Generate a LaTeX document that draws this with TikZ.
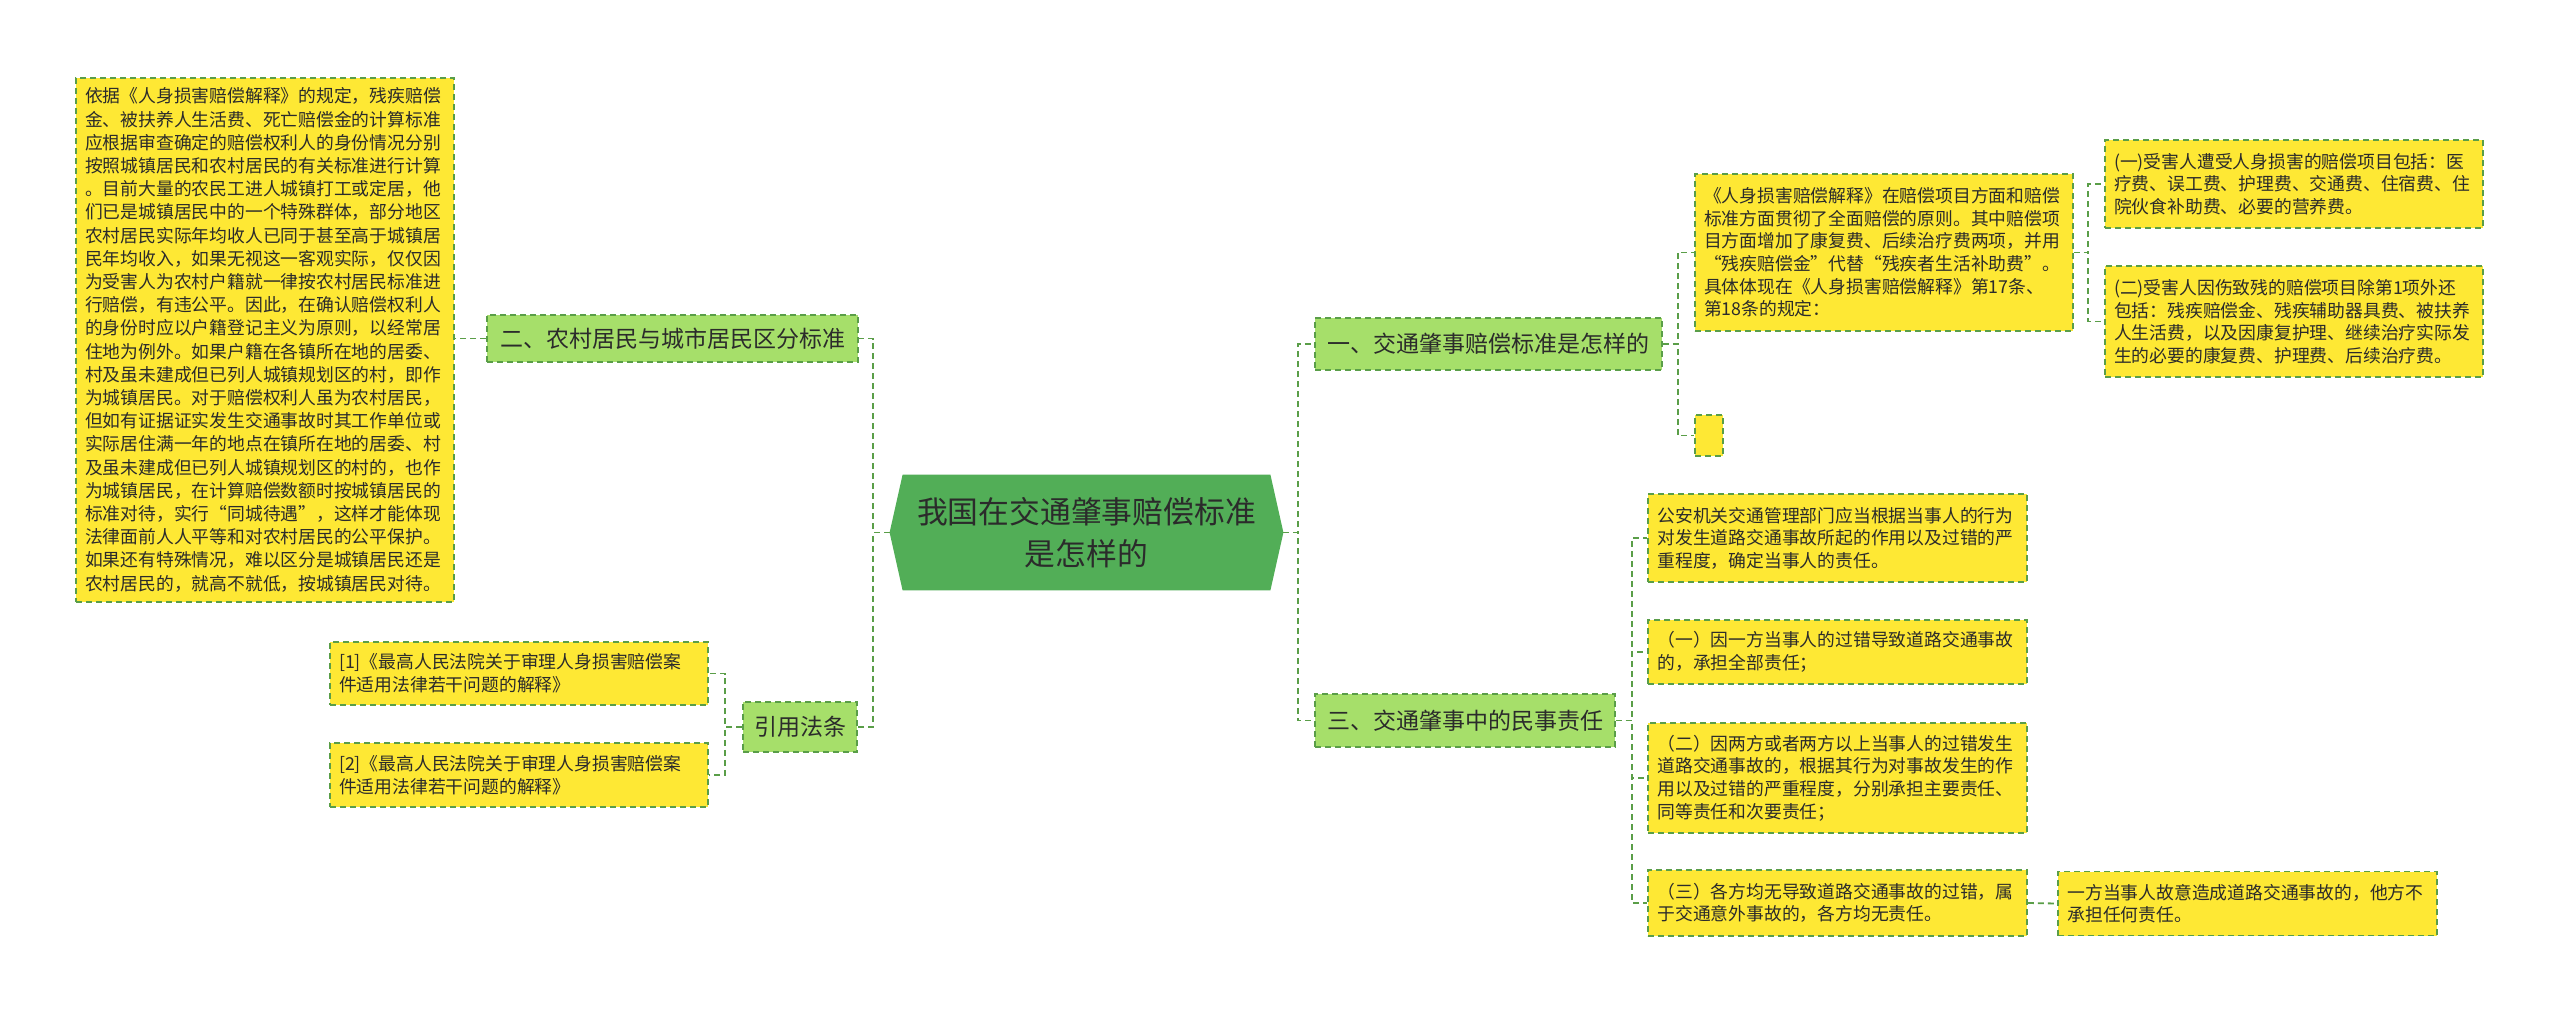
\documentclass[tikz,border=0pt]{standalone}
\usepackage{fontspec}
\setmainfont{Noto Sans CJK SC}
\usetikzlibrary{backgrounds}
\definecolor{yel}{HTML}{FEE834}
\definecolor{lgreen}{HTML}{A6DF6A}
\definecolor{rootG}{HTML}{52AE57}
\definecolor{lineG}{HTML}{5A9E48}
\definecolor{txt}{HTML}{2B2B2B}
\tikzset{
  conn/.style={draw=lineG, line width=0.9pt, dash pattern=on 3pt off 2pt},
  ybox/.style={draw=lineG, line width=0.8pt, dash pattern=on 3pt off 2pt, fill=yel, text=txt,
    font=\fontsize{8.9pt}{11.3pt}\selectfont, align=left, inner xsep=4.5pt, inner ysep=0pt, text width=180pt},
  gbox/.style={draw=lineG, line width=0.8pt, dash pattern=on 3pt off 2pt, fill=lgreen, text=txt,
    font=\fontsize{11.5pt}{14pt}\selectfont, align=center, inner sep=0pt},
  rootnode/.style={text=txt, font=\fontsize{15.4pt}{20.8pt}\selectfont, align=center, inner sep=0pt,
    minimum width=196.5pt, minimum height=57.5pt}
}
\begin{document}
\begin{tikzpicture}[x=0.5pt, y=-0.5pt]
\useasboundingbox (0,0) rectangle (2560,1013);
% trunk coordinates
\coordinate (tL) at (873,0);
\coordinate (tC) at (725,0);
\coordinate (tR) at (1298,0);
\coordinate (tA) at (1678,0);
\coordinate (tB) at (2088,0);
\coordinate (tD) at (1632,0);

% root
\node[rootnode] (root) at (1086.5,532.5) {我国在交通肇事赔偿标准\\是怎样的};
\begin{scope}[on background layer]
\fill[rootG] ([xshift=6.5pt]root.north west) -- ([xshift=-6.5pt]root.north east) -- (root.east)
  -- ([xshift=-6.5pt]root.south east) -- ([xshift=6.5pt]root.south west) -- (root.west) -- cycle;
\end{scope}

% left side
\node[gbox, minimum width=185.5pt, minimum height=23.5pt] (n2) at (672.5,338.5) {二、农村居民与城市居民区分标准};
\node[gbox, minimum width=57pt, minimum height=25pt] (cite) at (800,727) {引用法条};

\node[ybox, minimum width=188pt, minimum height=262pt, font=\fontsize{8.9pt}{11.6pt}\selectfont] (lbig) at (265,340) {依据《人身损害赔偿解释》的规定，残疾赔偿\\
金、被扶养人生活费、死亡赔偿金的计算标准\\
应根据审查确定的赔偿权利人的身份情况分别\\
按照城镇居民和农村居民的有关标准进行计算\\
。目前大量的农民工进人城镇打工或定居，他\\
们已是城镇居民中的一个特殊群体，部分地区\\
农村居民实际年均收人已同于甚至高于城镇居\\
民年均收入，如果无视这一客观实际，仅仅因\\
为受害人为农村户籍就一律按农村居民标准进\\
行赔偿，有违公平。因此，在确认赔偿权利人\\
的身份时应以户籍登记主义为原则，以经常居\\
住地为例外。如果户籍在各镇所在地的居委、\\
村及虽未建成但已列人城镇规划区的村，即作\\
为城镇居民。对于赔偿权利人虽为农村居民，\\
但如有证据证实发生交通事故时其工作单位或\\
实际居住满一年的地点在镇所在地的居委、村\\
及虽未建成但已列人城镇规划区的村的，也作\\
为城镇居民，在计算赔偿数额时按城镇居民的\\
标准对待，实行“同城待遇”，这样才能体现\\
法律面前人人平等和对农村居民的公平保护。\\
如果还有特殊情况，难以区分是城镇居民还是\\
农村居民的，就高不就低，按城镇居民对待。};

\node[ybox, minimum width=188pt, minimum height=31.5pt] (c1) at (519,673.5) {[1]《最高人民法院关于审理人身损害赔偿案\\件适用法律若干问题的解释》};
\node[ybox, minimum width=188pt, minimum height=32pt] (c2) at (519,775) {[2]《最高人民法院关于审理人身损害赔偿案\\件适用法律若干问题的解释》};

% right side level 1
\node[gbox, minimum width=173.5pt, minimum height=26pt] (n1) at (1488.5,344) {一、交通肇事赔偿标准是怎样的};
\node[gbox, minimum width=150pt, minimum height=26.5pt] (n3) at (1465,720.5) {三、交通肇事中的民事责任};

% children of n1
\node[ybox, minimum width=189pt, minimum height=78.5pt] (rbig) at (1884,252.5) {《人身损害赔偿解释》在赔偿项目方面和赔偿\\
标准方面贯彻了全面赔偿的原则。其中赔偿项\\
目方面增加了康复费、后续治疗费两项，并用\\
“残疾赔偿金”代替“残疾者生活补助费”。\\
具体体现在《人身损害赔偿解释》第17条、\\
第18条的规定：};
\node[ybox, text width={}, inner xsep=0pt, minimum width=14pt, minimum height=20.5pt] (empty) at (1709,435.5) {};

\node[ybox, minimum width=189pt, minimum height=44pt] (a1) at (2294,184) {(一)受害人遭受人身损害的赔偿项目包括：医\\
疗费、误工费、护理费、交通费、住宿费、住\\
院伙食补助费、必要的营养费。};
\node[ybox, minimum width=189pt, minimum height=55.5pt] (a2) at (2294,321.5) {(二)受害人因伤致残的赔偿项目除第1项外还\\
包括：残疾赔偿金、残疾辅助器具费、被扶养\\
人生活费，以及因康复护理、继续治疗实际发\\
生的必要的康复费、护理费、后续治疗费。};

% children of n3
\node[ybox, minimum width=189.5pt, minimum height=44pt] (b0) at (1837.5,538) {公安机关交通管理部门应当根据当事人的行为\\
对发生道路交通事故所起的作用以及过错的严\\
重程度，确定当事人的责任。};
\node[ybox, minimum width=189.5pt, minimum height=32pt] (b1) at (1837.5,652) {（一）因一方当事人的过错导致道路交通事故\\
的，承担全部责任；};
\node[ybox, minimum width=189.5pt, minimum height=55pt] (b2) at (1837.5,778) {（二）因两方或者两方以上当事人的过错发生\\
道路交通事故的，根据其行为对事故发生的作\\
用以及过错的严重程度，分别承担主要责任、\\
同等责任和次要责任；};
\node[ybox, minimum width=189.5pt, minimum height=33pt] (b3) at (1837.5,903) {（三）各方均无导致道路交通事故的过错，属\\
于交通意外事故的，各方均无责任。};
\node[ybox, minimum width=189.5pt, minimum height=32pt] (b4) at (2247.5,903.5) {一方当事人故意造成道路交通事故的，他方不\\
承担任何责任。};

% connectors
\draw[conn] (root.west) -- (root.west -| tL) |- (n2.east);
\draw[conn] (root.west) -- (root.west -| tL) |- (cite.east);
\draw[conn] (n2.west) -- (n2.west -| lbig.east);
\draw[conn] (cite.west) -- (cite.west -| tC) |- (c1.east);
\draw[conn] (cite.west) -- (cite.west -| tC) |- (c2.east);
\draw[conn] (root.east) -- (root.east -| tR) |- (n1.west);
\draw[conn] (root.east) -- (root.east -| tR) |- (n3.west);
\draw[conn] (n1.east) -- (n1.east -| tA) |- (rbig.west);
\draw[conn] (n1.east) -- (n1.east -| tA) |- (empty.west);
\draw[conn] (rbig.east) -- (rbig.east -| tB) |- (a1.west);
\draw[conn] (rbig.east) -- (rbig.east -| tB) |- (a2.west);
\draw[conn] (n3.east) -- (n3.east -| tD) |- (b0.west);
\draw[conn] (n3.east) -- (n3.east -| tD) |- (b1.west);
\draw[conn] (n3.east) -- (n3.east -| tD) |- (b2.west);
\draw[conn] (n3.east) -- (n3.east -| tD) |- (b3.west);
\draw[conn] (b3.east) -- (b4.west);
\end{tikzpicture}
\end{document}
